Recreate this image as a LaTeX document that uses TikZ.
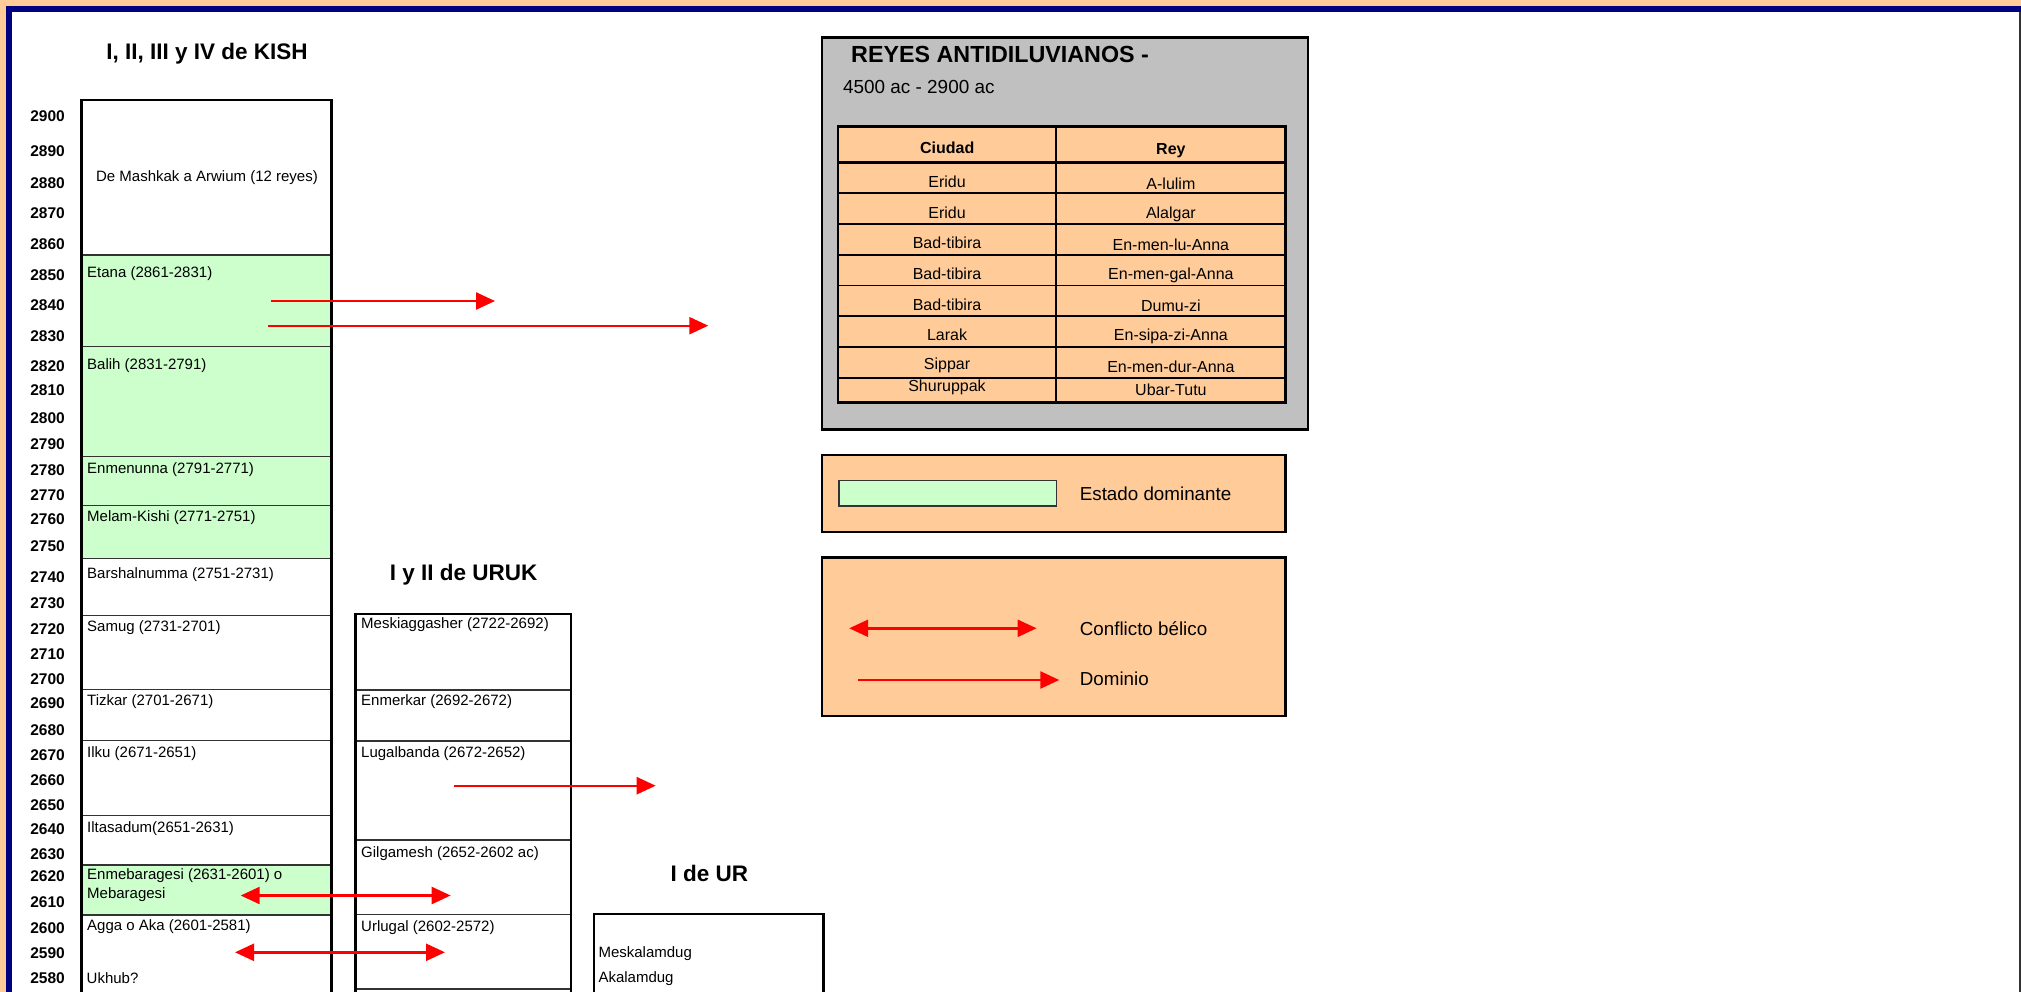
\documentclass[tikz,border=0pt]{standalone}
\usepackage{fontspec}
\setmainfont{Liberation Sans}
\usetikzlibrary{arrows.meta}
\definecolor{borange}{HTML}{FFCC99}
\definecolor{navyb}{HTML}{000080}
\definecolor{lgreen}{HTML}{CCFFCC}
\definecolor{lgray}{HTML}{C0C0C0}
\definecolor{sepc}{HTML}{333333}
\begin{document}
\begin{tikzpicture}[x=1pt,y=-1pt,
  yr/.style={font=\fontsize{15.5}{18}\selectfont\bfseries, anchor=east, inner sep=0pt},
  txt/.style={font=\fontsize{15}{18.3}\selectfont, anchor=west, inner sep=0pt, align=left},
  ctxt/.style={font=\fontsize{16}{18}\selectfont, inner sep=0pt},
  ttl/.style={font=\fontsize{22.5}{27}\selectfont\bfseries, inner sep=0pt},
  lgt/.style={font=\fontsize{18.8}{22}\selectfont, anchor=west, inner sep=0pt},
  sep/.style={draw=sepc, line width=1.2pt},
  frame/.style={draw=black, line width=2.6pt},
  grid/.style={draw=black, line width=1.6pt},
  dom/.style={draw=red, line width=2.4pt, -{Triangle[length=19pt,width=17pt]}},
  war/.style={draw=red, line width=2.4pt, {Triangle[length=19pt,width=17pt]}-{Triangle[length=19pt,width=17pt]}},
]
\useasboundingbox (0,0) rectangle (2021,992);
% page border
\fill[borange] (0,0) rectangle (2021,992);
\fill[navyb] (6,6) rectangle (2021,992);
\fill[white] (12,12) rectangle (2019,992);
\draw[line width=1.5pt, draw=sepc] (2020,12) -- (2020,992);

% year labels
\foreach \yr/\yy in {2900/116.3,2890/151,2880/183,2870/213,2860/244,2850/274.7,2840/305.5,2830/336,
  2820/366,2810/390,2800/417.7,2790/444.3,2780/470,2770/494.7,2760/519.3,2750/546,2740/576.7,
  2730/603.3,2720/629,2710/654,2700/679.3,2690/703.3,2680/730,2670/755,2660/780,2650/805,
  2640/829.3,2630/854,2620/876,2610/901.7,2600/927.7,2590/953.3,2580/978.3}
  {\node[yr] (y\yr) at (65,\yy) {\yr};}

% ---------- KISH ----------
\node[ttl] (kishT) at (207,54) {I, II, III y IV de KISH};
\fill[lgreen] (81.5,255) rectangle (331.5,558.7);
\fill[lgreen] (81.5,865) rectangle (331.5,915);
\foreach \s in {255,346.7,456.7,505.7,558.7,615.7,689.3,740.7,815.3,865,915}
  {\draw[sep] (81.5,\s) -- (331.5,\s);}
\draw[frame] (81.5,992) -- (81.5,100) -- (331.5,100) -- (331.5,992);

\node[font=\fontsize{15}{18}\selectfont, inner sep=0pt] (k0) at (207,177.5) {De Mashkak a Arwium (12 reyes)};
\node[txt] (k1) at (87,273.5) {Etana (2861-2831)};
\node[txt] (k2) at (87,366) {Balih (2831-2791)};
\node[txt] (k3) at (87,469.3) {Enmenunna (2791-2771)};
\node[txt] (k4) at (87,517.7) {Melam-Kishi (2771-2751)};
\node[txt] (k5) at (87,574.3) {Barshalnumma (2751-2731)};
\node[txt] (k6) at (87,627.7) {Samug (2731-2701)};
\node[txt] (k7) at (87,701.7) {Tizkar (2701-2671)};
\node[txt] (k8) at (87,754) {Ilku (2671-2651)};
\node[txt] (k9) at (87,828.3) {Iltasadum(2651-2631)};
\node[txt] (k10) at (87,885.2) {Enmebaragesi (2631-2601) o\\Mebaragesi};
\node[txt] (k11) at (87,926.7) {Agga o Aka (2601-2581)};
\node[txt] (k12) at (86.5,978.3) {Ukhub?};

% ---------- URUK ----------
\node[ttl] (urukT) at (463.7,574.3) {I y II de URUK};
\foreach \s in {690,741,840,914.3,989}
  {\draw[sep] (355.7,\s) -- (571,\s);}
\draw[frame] (355.7,992) -- (355.7,614) -- (571,614) -- (571,992);
\node[txt] (u1) at (361,625) {Meskiaggasher (2722-2692)};
\node[txt] (u2) at (361,701.3) {Enmerkar (2692-2672)};
\node[txt] (u3) at (361,753.3) {Lugalbanda (2672-2652)};
\node[txt] (u4) at (361,853.3) {Gilgamesh (2652-2602 ac)};
\node[txt] (u5) at (361,927.3) {Urlugal (2602-2572)};

% ---------- UR ----------
\node[ttl] (urT) at (709.3,873.3) {I de UR};
\draw[frame] (594,992) -- (594,914) -- (823.3,914) -- (823.3,992);
\node[txt] (r1) at (598.3,953.3) {Meskalamdug};
\node[txt] (r2) at (598.3,978.3) {Akalamdug};

% ---------- REYES ANTIDILUVIANOS ----------
\draw[frame, fill=lgray, line width=2.4pt] (821.7,37.5) rectangle (1307.9,429.3);
\node[ttl, anchor=west, font=\fontsize{23.3}{27}\selectfont\bfseries] (reyT) at (851,54.3) {REYES ANTIDILUVIANOS -};
\node[font=\fontsize{18.9}{22}\selectfont, anchor=west, inner sep=0pt] (reyD) at (843,86.7) {4500 ac - 2900 ac};
\fill[borange] (837.9,126.7) rectangle (1285.5,402.3);
\foreach \s in {193.3,224.3,255,285.7,316,346.7,377.7}
  {\draw[grid] (837.9,\s) -- (1285.5,\s);}
\draw[frame] (837.9,162.7) -- (1285.5,162.7);
\draw[grid] (1056.2,126.7) -- (1056.2,402.3);
\draw[frame] (837.9,126.7) rectangle (1285.5,402.3);
\node[ctxt, font=\fontsize{16}{18}\selectfont\bfseries] (hC) at (947.2,147.7) {Ciudad};
\node[ctxt, font=\fontsize{16}{18}\selectfont\bfseries] (hR) at (1170.9,151) {Rey};
\foreach \i/\c/\r/\ya/\yb in {1/Eridu/A-lulim/181.7/183.3, 2/Eridu/Alalgar/212.3/214,
   3/Bad-tibira/En-men-lu-Anna/242.7/245, 4/Bad-tibira/En-men-gal-Anna/274/275.3,
   5/Bad-tibira/Dumu-zi/304.3/305.7, 6/Larak/En-sipa-zi-Anna/335/336,
   7/Sippar/En-men-dur-Anna/365.7/366.7, 8/Shuruppak/Ubar-Tutu/387.7/389.3}
  {\node[ctxt] (c\i) at (947,\ya) {\c};
   \node[ctxt] (r\i) at (1170.9,\yb) {\r};}

% ---------- legends ----------
\draw[frame, fill=borange, line width=2.4pt] (821.7,455) rectangle (1285.5,531.7);
\draw[draw=sepc, line width=1.4pt, fill=lgreen] (838.9,480.7) rectangle (1056.5,506);
\node[lgt] (lg1) at (1079.6,494) {Estado dominante};

\draw[frame, fill=borange, line width=2.4pt] (821.7,557.3) rectangle (1285.5,715.7);
\coordinate (lwa) at (849.2,628.3);
\coordinate (lwb) at (1036.6,628.3);
\draw[war] (lwa) -- (lwb);
\node[lgt] (lg2) at (1079.6,628.3) {Conflicto bélico};
\coordinate (lda) at (857.9,680);
\coordinate (ldb) at (1059.3,680);
\draw[dom] (lda) -- (ldb);
\node[lgt] (lg3) at (1079.6,678.3) {Dominio};

% ---------- arrows ----------
\coordinate (a1s) at (271,301);   \coordinate (a1e) at (495,301);
\coordinate (a2s) at (268.3,325.7); \coordinate (a2e) at (708.3,325.7);
\draw[dom] (a1s) -- (a1e);
\draw[dom] (a2s) -- (a2e);
\coordinate (a3s) at (454,785.7); \coordinate (a3e) at (655.7,785.7);
\draw[dom] (a3s) -- (a3e);
\coordinate (w1a) at (240.7,895.5); \coordinate (w1b) at (450.7,895.5);
\draw[war] (w1a) -- (w1b);
\coordinate (w2a) at (235,952.3); \coordinate (w2b) at (445,952.3);
\draw[war] (w2a) -- (w2b);
\end{tikzpicture}
\end{document}
